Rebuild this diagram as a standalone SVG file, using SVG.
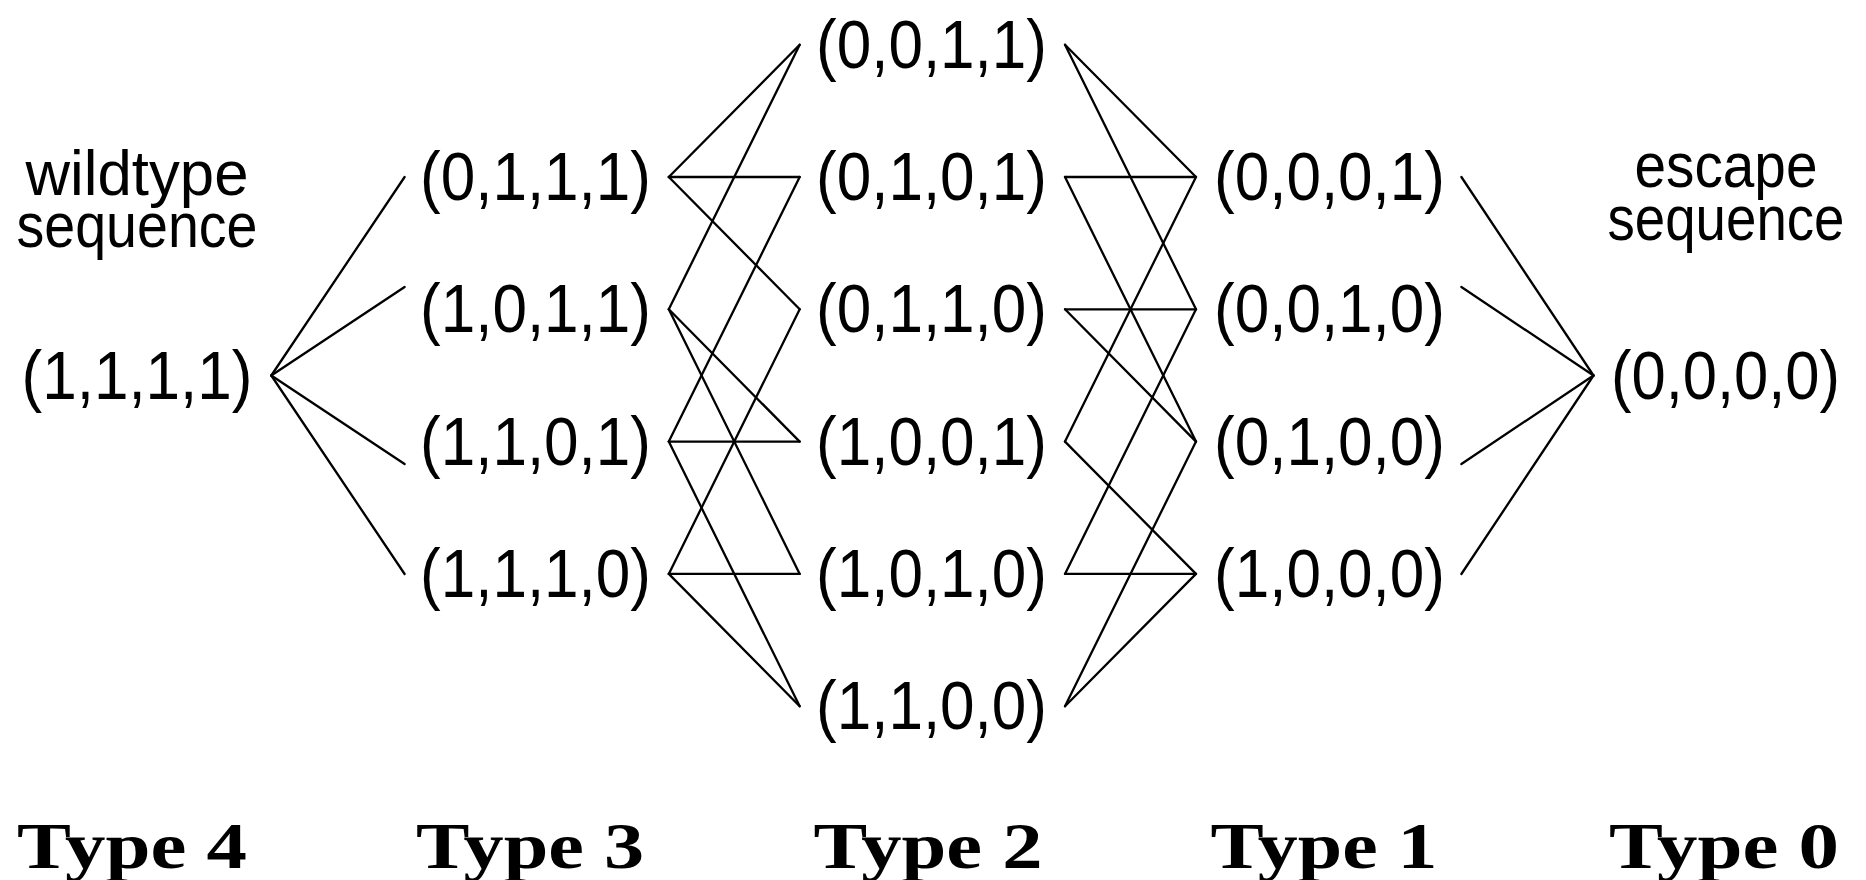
<svg xmlns="http://www.w3.org/2000/svg" width="1866" height="880" viewBox="0 0 1866 880">
<style>
.t{font-family:"Liberation Sans",Arial,sans-serif;font-size:69px;fill:#000;text-anchor:middle}
.l{font-family:"Liberation Sans",Arial,sans-serif;font-size:63px;fill:#000;text-anchor:middle}
.ty{font-family:"Liberation Serif","Times New Roman",serif;font-weight:bold;font-size:66px;fill:#000;text-anchor:middle}
.c line{stroke:#000;stroke-width:2.3;stroke-linecap:round}
</style>
<rect width="1866" height="880" fill="#fff"/>
<g id="connectors" class="c">
<line x1="271.3" y1="375.5" x2="404.6" y2="177"/>
<line x1="271.3" y1="375.5" x2="404.6" y2="287"/>
<line x1="271.3" y1="375.5" x2="404.6" y2="464"/>
<line x1="271.3" y1="375.5" x2="404.6" y2="574"/>
<line x1="668.8" y1="177" x2="799.7" y2="44.7"/>
<line x1="668.8" y1="177" x2="799.7" y2="177"/>
<line x1="668.8" y1="177" x2="799.7" y2="309.3"/>
<line x1="668.8" y1="309.3" x2="799.7" y2="44.7"/>
<line x1="668.8" y1="309.3" x2="799.7" y2="441.6"/>
<line x1="668.8" y1="309.3" x2="799.7" y2="573.9"/>
<line x1="668.8" y1="441.6" x2="799.7" y2="177"/>
<line x1="668.8" y1="441.6" x2="799.7" y2="441.6"/>
<line x1="668.8" y1="441.6" x2="799.7" y2="706.2"/>
<line x1="668.8" y1="573.9" x2="799.7" y2="309.3"/>
<line x1="668.8" y1="573.9" x2="799.7" y2="573.9"/>
<line x1="668.8" y1="573.9" x2="799.7" y2="706.2"/>
<line x1="1065" y1="44.7" x2="1196" y2="177"/>
<line x1="1065" y1="44.7" x2="1196" y2="309.3"/>
<line x1="1065" y1="177" x2="1196" y2="177"/>
<line x1="1065" y1="177" x2="1196" y2="441.6"/>
<line x1="1065" y1="309.3" x2="1196" y2="309.3"/>
<line x1="1065" y1="309.3" x2="1196" y2="441.6"/>
<line x1="1065" y1="441.6" x2="1196" y2="177"/>
<line x1="1065" y1="441.6" x2="1196" y2="573.9"/>
<line x1="1065" y1="573.9" x2="1196" y2="309.3"/>
<line x1="1065" y1="573.9" x2="1196" y2="573.9"/>
<line x1="1065" y1="706.2" x2="1196" y2="441.6"/>
<line x1="1065" y1="706.2" x2="1196" y2="573.9"/>
<line x1="1461.4" y1="177" x2="1593.5" y2="375.5"/>
<line x1="1461.4" y1="287" x2="1593.5" y2="375.5"/>
<line x1="1461.4" y1="464" x2="1593.5" y2="375.5"/>
<line x1="1461.4" y1="574" x2="1593.5" y2="375.5"/>
</g>
<g id="label-wildtype"><text class="l" x="137" y="195" textLength="223" lengthAdjust="spacingAndGlyphs">wildtype</text><text class="l" x="137" y="247" textLength="241" lengthAdjust="spacingAndGlyphs">sequence</text></g>
<g id="label-escape"><text class="l" x="1726" y="187" textLength="183" lengthAdjust="spacingAndGlyphs">escape</text><text class="l" x="1726" y="240" textLength="237" lengthAdjust="spacingAndGlyphs">sequence</text></g>
<g id="n1111"><text class="t" x="137" y="398.5" textLength="231" lengthAdjust="spacingAndGlyphs">(1,1,1,1)</text></g>
<g id="n0111"><text class="t" x="535.5" y="200" textLength="231" lengthAdjust="spacingAndGlyphs">(0,1,1,1)</text></g>
<g id="n1011"><text class="t" x="535.5" y="332.3" textLength="231" lengthAdjust="spacingAndGlyphs">(1,0,1,1)</text></g>
<g id="n1101"><text class="t" x="535.5" y="464.6" textLength="231" lengthAdjust="spacingAndGlyphs">(1,1,0,1)</text></g>
<g id="n1110"><text class="t" x="535.5" y="596.9" textLength="231" lengthAdjust="spacingAndGlyphs">(1,1,1,0)</text></g>
<g id="n0011"><text class="t" x="931.5" y="67.7" textLength="231" lengthAdjust="spacingAndGlyphs">(0,0,1,1)</text></g>
<g id="n0101"><text class="t" x="931.5" y="200" textLength="231" lengthAdjust="spacingAndGlyphs">(0,1,0,1)</text></g>
<g id="n0110"><text class="t" x="931.5" y="332.3" textLength="231" lengthAdjust="spacingAndGlyphs">(0,1,1,0)</text></g>
<g id="n1001"><text class="t" x="931.5" y="464.6" textLength="231" lengthAdjust="spacingAndGlyphs">(1,0,0,1)</text></g>
<g id="n1010"><text class="t" x="931.5" y="596.9" textLength="231" lengthAdjust="spacingAndGlyphs">(1,0,1,0)</text></g>
<g id="n1100"><text class="t" x="931.5" y="729.2" textLength="231" lengthAdjust="spacingAndGlyphs">(1,1,0,0)</text></g>
<g id="n0001"><text class="t" x="1329.5" y="200" textLength="231" lengthAdjust="spacingAndGlyphs">(0,0,0,1)</text></g>
<g id="n0010"><text class="t" x="1329.5" y="332.3" textLength="231" lengthAdjust="spacingAndGlyphs">(0,0,1,0)</text></g>
<g id="n0100"><text class="t" x="1329.5" y="464.6" textLength="231" lengthAdjust="spacingAndGlyphs">(0,1,0,0)</text></g>
<g id="n1000"><text class="t" x="1329.5" y="596.9" textLength="231" lengthAdjust="spacingAndGlyphs">(1,0,0,0)</text></g>
<g id="n0000"><text class="t" x="1725.5" y="398.5" textLength="229" lengthAdjust="spacingAndGlyphs">(0,0,0,0)</text></g>
<g id="type4"><text class="ty" x="132" y="868" textLength="230" lengthAdjust="spacingAndGlyphs">Type 4</text></g>
<g id="type3"><text class="ty" x="530" y="868" textLength="228" lengthAdjust="spacingAndGlyphs">Type 3</text></g>
<g id="type2"><text class="ty" x="928" y="868" textLength="229" lengthAdjust="spacingAndGlyphs">Type 2</text></g>
<g id="type1"><text class="ty" x="1324" y="868" textLength="227" lengthAdjust="spacingAndGlyphs">Type 1</text></g>
<g id="type0"><text class="ty" x="1724" y="868" textLength="230" lengthAdjust="spacingAndGlyphs">Type 0</text></g>
</svg>
